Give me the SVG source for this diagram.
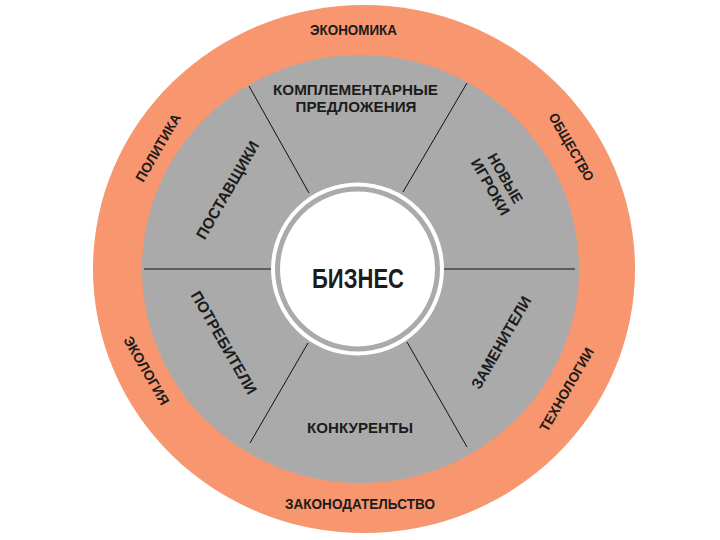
<svg xmlns="http://www.w3.org/2000/svg" width="720" height="540" viewBox="0 0 720 540">
<style>
.t{font-family:"Liberation Sans",Arial,sans-serif;font-weight:700;fill:#1c1c1c;text-anchor:middle}
.o{font-size:14px}
.i{font-size:15.5px}
.s{font-size:15px}
.c{stroke:#111;stroke-width:1;fill:none}
</style>
<rect width="720" height="540" fill="#fff"/>
<g id="outer-ring">
<ellipse cx="364" cy="269" rx="271" ry="264" fill="#F7966F"/>
<text class="t o" x="353.5" y="35.3" textLength="87" lengthAdjust="spacingAndGlyphs">ЭКОНОМИКА</text>
<text class="t o" x="360" y="509" textLength="150" lengthAdjust="spacingAndGlyphs">ЗАКОНОДАТЕЛЬСТВО</text>
<text class="t o" x="158" y="152.5" transform="rotate(-60 158 147.5)" textLength="76" lengthAdjust="spacingAndGlyphs">ПОЛИТИКА</text>
<text class="t o" x="146.5" y="375.5" transform="rotate(60 146.5 370.5)" textLength="77" lengthAdjust="spacingAndGlyphs">ЭКОЛОГИЯ</text>
<text class="t o" x="571.5" y="152" transform="rotate(60 571.5 147)" textLength="76" lengthAdjust="spacingAndGlyphs">ОБЩЕСТВО</text>
<text class="t o" x="566.5" y="394.5" transform="rotate(-60 566.5 389.5)" textLength="94" lengthAdjust="spacingAndGlyphs">ТЕХНОЛОГИИ</text>
</g>
<g id="forces">
<ellipse cx="360.5" cy="269" rx="218.5" ry="214" fill="#AAAAAA"/>
<text class="t s" x="355.5" y="95.2" textLength="165" lengthAdjust="spacingAndGlyphs">КОМПЛЕМЕНТАРНЫЕ</text>
<text class="t s" x="356" y="112.3" textLength="121" lengthAdjust="spacingAndGlyphs">ПРЕДЛОЖЕНИЯ</text>
<text class="t i" x="360" y="432.7" textLength="106" lengthAdjust="spacingAndGlyphs">КОНКУРЕНТЫ</text>
<text class="t i" x="227.5" y="195.5" transform="rotate(-60 227.5 190)" textLength="110" lengthAdjust="spacingAndGlyphs">ПОСТАВЩИКИ</text>
<text class="t i" x="224" y="348" transform="rotate(60 224 342.5)" textLength="116" lengthAdjust="spacingAndGlyphs">ПОТРЕБИТЕЛИ</text>
<text class="t i" x="501" y="348" transform="rotate(-60 501 342.5)" textLength="104" lengthAdjust="spacingAndGlyphs">ЗАМЕНИТЕЛИ</text>
<g transform="rotate(60 498 182.5)">
<text class="t s" x="498" y="179.3" textLength="55" lengthAdjust="spacingAndGlyphs">НОВЫЕ</text>
<text class="t s" x="498" y="196.4" textLength="63" lengthAdjust="spacingAndGlyphs">ИГРОКИ</text>
</g>
</g>
<g id="connectors">
<line class="c" x1="144" y1="269" x2="271" y2="269"/>
<line class="c" x1="444" y1="269" x2="575" y2="269"/>
<line class="c" x1="249" y1="86" x2="309" y2="193"/>
<line class="c" x1="467" y1="83" x2="403" y2="192"/>
<line class="c" x1="250" y1="443" x2="308" y2="343"/>
<line class="c" x1="407" y1="342" x2="467" y2="447"/>
</g>
<g id="business">
<circle cx="357.5" cy="269" r="86.5" fill="#fff"/>
<circle cx="357.5" cy="269" r="80" fill="none" stroke="#AAAAAA" stroke-width="5"/>
<text class="t" x="358" y="288.3" font-size="28" textLength="92" lengthAdjust="spacingAndGlyphs">БИЗНЕС</text>
</g>
</svg>
